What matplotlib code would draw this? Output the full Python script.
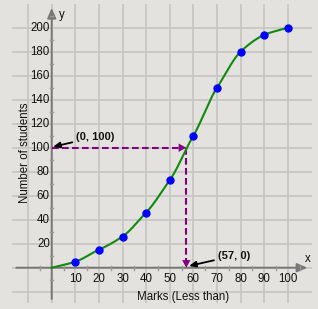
import numpy as np
import matplotlib
matplotlib.use("Agg")
import matplotlib.pyplot as plt

# ---- data ----
marks = [0, 10, 20, 30, 40, 50, 60, 70, 80, 90, 100]
students = [0, 5, 15, 26, 46, 73, 110, 150, 180, 194, 200]
x_ticks = [10, 20, 30, 40, 50, 60, 70, 80, 90, 100]
y_ticks = [20, 40, 60, 80, 100, 120, 140, 160, 180, 200]
median_y = 100
median_x = 57

BG = '#e3e2de'
GRID = '#c8c7c3'
AXC = '#777777'
PURPLE = '#800080'

def cardinal_spline(x, y, xs, scale=0.85):
    x = np.asarray(x, float); y = np.asarray(y, float)
    n = len(x)
    m = np.zeros(n)
    m[0] = (y[1] - y[0]) / (x[1] - x[0])
    m[-1] = (y[-1] - y[-2]) / (x[-1] - x[-2])
    for i in range(1, n - 1):
        m[i] = scale * (y[i + 1] - y[i - 1]) / (x[i + 1] - x[i - 1])
    out = np.empty_like(xs)
    for k, t in enumerate(xs):
        i = min(max(np.searchsorted(x, t) - 1, 0), n - 2)
        h = x[i + 1] - x[i]
        s = (t - x[i]) / h
        h00 = 2 * s**3 - 3 * s**2 + 1
        h10 = s**3 - 2 * s**2 + s
        h01 = -2 * s**3 + 3 * s**2
        h11 = s**3 - s**2
        out[k] = h00 * y[i] + h10 * h * m[i] + h01 * y[i + 1] + h11 * h * m[i + 1]
    return out

fig = plt.figure(figsize=(3.18, 3.09), dpi=100, facecolor=BG)
ax = fig.add_axes([0, 0, 1, 1])
ax.set_facecolor(BG)
ax.set_xlim(-21.9, 112.8)
ax.set_ylim(-34.4, 223.1)
ax.axis('off')

# grid
for gx in range(-10, 101, 10):
    ax.plot([gx, gx], [-29.5, 220], color=GRID, lw=1.3, zorder=1, solid_capstyle='butt')
for gy in range(-20, 201, 20):
    ax.plot([-16.8, 110.2], [gy, gy], color=GRID, lw=1.3, zorder=1, solid_capstyle='butt')

# axes with arrows
ax.annotate('', xy=(108.3, 0), xytext=(-15, 0),
            arrowprops=dict(arrowstyle='-|>,head_length=0.6,head_width=0.26', color=AXC,
                            lw=1.4, shrinkA=0, shrinkB=0), zorder=2)
ax.annotate('', xy=(0, 216.5), xytext=(0, -26),
            arrowprops=dict(arrowstyle='-|>,head_length=0.6,head_width=0.26', color=AXC,
                            lw=1.4, shrinkA=0, shrinkB=0), zorder=2)
# small minor ticks
for mx in range(-5, 106, 10):
    ax.plot([mx, mx], [-1.5, 1.5], color='#9a9996', lw=1.0, zorder=2)
for my in range(-10, 211, 20):
    ax.plot([-0.7, 0.7], [my, my], color='#9a9996', lw=1.0, zorder=2)

ax.text(4.2, 211, 'y', fontsize=8.3, family='Liberation Sans', color='#111111', va='center', ha='center')
ax.text(108.4, 7.5, 'x', fontsize=8.3, family='Liberation Sans', color='#111111', va='center', ha='center')

for t in x_ticks:
    ax.text(t, -9.5, str(t), fontsize=8.3, family='Liberation Sans', color='#111111',
            ha='center', va='center')
for t in y_ticks:
    ax.text(-0.8, t, str(t), fontsize=8.3, family='Liberation Sans', color='#111111',
            ha='right', va='center')

ax.text(-11.5, 96, 'Number of students', rotation=90, fontsize=8.3, family='Liberation Sans',
        color='#111111', ha='center', va='center')
ax.text(55.7, -24.5, 'Marks (Less than)', fontsize=8.3, family='Liberation Sans',
        color='#111111', ha='center', va='center')

# ogive curve
xs = np.linspace(marks[0], marks[-1], 400)
ys = cardinal_spline(marks, students, xs)
ax.plot(xs, ys, color='#108a10', lw=1.5, zorder=4)
ax.plot(marks[1:], students[1:], 'o', color='#0000ff', ms=5, zorder=5, mec='#0000ff')

# median dashed lines
dash = (0, (3.2, 1.6))
ax.plot([0, median_x - 2.5], [median_y, median_y], color=PURPLE, lw=1.5, ls=dash, zorder=3)
ax.plot([median_x, median_x], [median_y, 5], color=PURPLE, lw=1.5, ls=dash, zorder=3)
ax.annotate('', xy=(median_x, median_y), xytext=(median_x - 0.5, median_y),
            arrowprops=dict(arrowstyle='-|>,head_length=0.55,head_width=0.3', color=PURPLE,
                            lw=0, shrinkA=0, shrinkB=0), zorder=3)
ax.annotate('', xy=(median_x, 0), xytext=(median_x, 0.5),
            arrowprops=dict(arrowstyle='-|>,head_length=0.55,head_width=0.3', color=PURPLE,
                            lw=0, shrinkA=0, shrinkB=0), zorder=3)

# annotations
ax.annotate('(0, 100)', xy=(0.6, 100.8), xytext=(10.5, 109), fontsize=8, fontweight='bold',
            family='Liberation Sans', color='#111111', ha='left', va='center',
            arrowprops=dict(arrowstyle='-|>,head_length=0.5,head_width=0.22', color='black',
                            lw=1.3, shrinkA=1, shrinkB=0), zorder=6)
ax.annotate('(57, 0)', xy=(median_x + 1.2, 1.5), xytext=(70.5, 10), fontsize=8, fontweight='bold',
            family='Liberation Sans', color='#111111', ha='left', va='center',
            arrowprops=dict(arrowstyle='-|>,head_length=0.5,head_width=0.22', color='black',
                            lw=1.3, shrinkA=1, shrinkB=0), zorder=6)

fig.savefig('out.png', dpi=100, facecolor=BG)
